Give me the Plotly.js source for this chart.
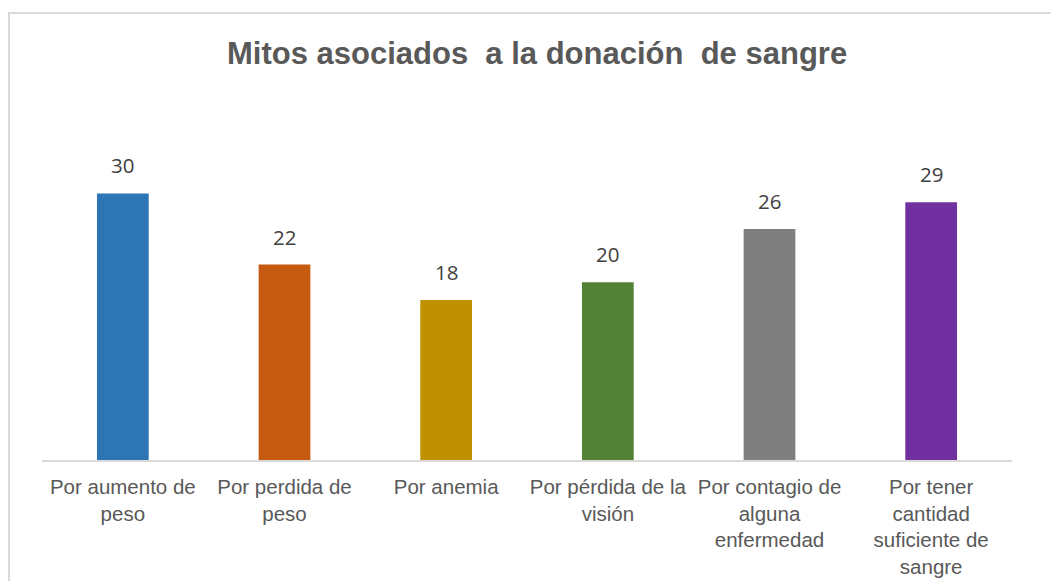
<!DOCTYPE html>
<html>
<head>
<meta charset="utf-8">
<script src="https://cdn.plot.ly/plotly-3.0.1.min.js"></script>
<style>
  html, body { margin: 0; padding: 0; width: 1051px; height: 581px; overflow: hidden; background: #ffffff; }
  #frame { position: absolute; left: 8px; top: 12px; width: 1100px; height: 700px; border: 2px solid #d9d9d9; box-sizing: border-box; }
  #chart { position: absolute; left: 0; top: 0; width: 1051px; height: 581px; }
</style>
</head>
<body>
<div id="frame"></div>
<div id="chart"></div>
<script>
const categories = [
  "Por aumento de<br>peso",
  "Por perdida de<br>peso",
  "Por anemia",
  "Por pérdida de la<br>visión",
  "Por contagio de<br>alguna<br>enfermedad",
  "Por tener<br>cantidad<br>suficiente de<br>sangre"
];
const values = [30, 22, 18, 20, 26, 29];
const barColors = ["#2E75B6", "#C55A11", "#BF9000", "#538135", "#7F7F7F", "#7030A0"];
const chartTitle = "Mitos asociados  a la donación  de sangre";

const trace = {
  type: "bar",
  x: categories,
  y: values,
  marker: { color: barColors },
  hoverinfo: "none"
};

const annotations = categories.map((c, i) => ({
  x: c,
  y: values[i],
  xref: "x",
  yref: "y",
  text: String(values[i]),
  showarrow: false,
  yanchor: "bottom",
  yshift: 12,
  font: { family: "Open Sans, sans-serif", size: 20.5, color: "#404040" }
}));

const layout = {
  width: 1051,
  height: 581,
  margin: { l: 42, r: 39, t: 148.5, b: 120.5, pad: 0 },
  paper_bgcolor: "rgba(0,0,0,0)",
  plot_bgcolor: "rgba(0,0,0,0)",
  bargap: 0.68,
  showlegend: false,
  title: {
    text: "<b>" + chartTitle + "</b>",
    x: 0.511,
    xanchor: "center",
    y: 0.908,
    yanchor: "middle",
    font: { family: "Liberation Sans, Arial, sans-serif", size: 31, color: "#595959" }
  },
  xaxis: {
    showline: true,
    linecolor: "#d9d9d9",
    linewidth: 1.5,
    showgrid: false,
    zeroline: false,
    ticks: "",
    ticklabelstandoff: 8,
    tickfont: { family: "Liberation Sans, Arial, sans-serif", size: 20.5, color: "#595959" },
    fixedrange: true
  },
  yaxis: {
    range: [0, 35],
    visible: false,
    showgrid: false,
    zeroline: false,
    fixedrange: true
  },
  annotations: annotations
};

Plotly.newPlot("chart", [trace], layout, { displayModeBar: false, staticPlot: true });
</script>
</body>
</html>
